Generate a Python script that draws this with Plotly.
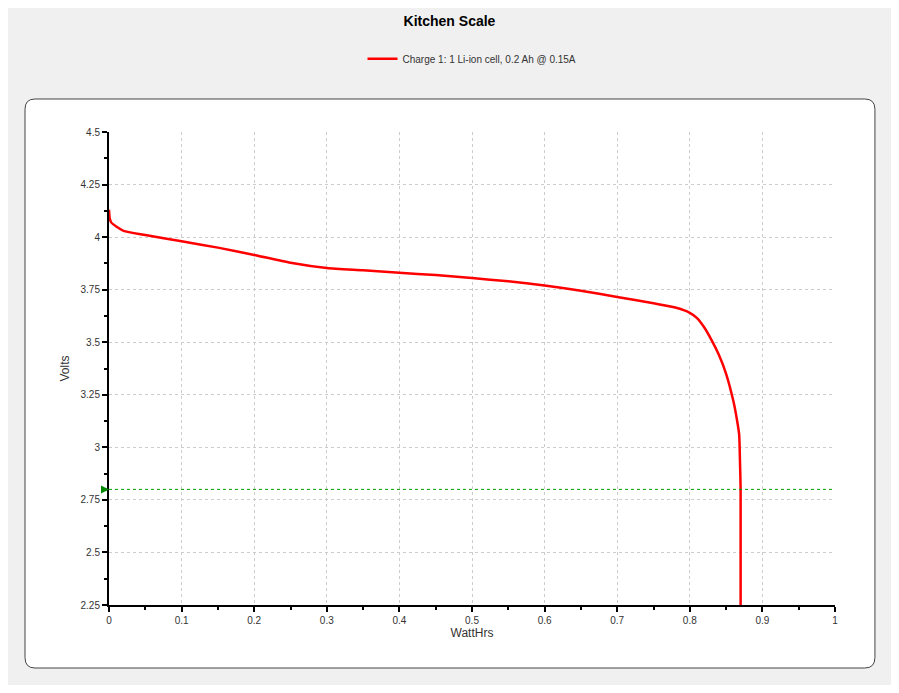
import plotly.graph_objects as go

watthrs = [0, 0.001, 0.003, 0.01, 0.02, 0.05, 0.1, 0.15, 0.2, 0.25, 0.3, 0.35, 0.4, 0.45, 0.5, 0.55, 0.6, 0.65, 0.7, 0.75, 0.78, 0.8, 0.81, 0.82, 0.83, 0.84, 0.85, 0.86, 0.865, 0.868, 0.869, 0.87, 0.87]
volts = [4.13, 4.09, 4.07, 4.05, 4.03, 4.01, 3.98, 3.95, 3.915, 3.878, 3.853, 3.842, 3.83, 3.82, 3.805, 3.79, 3.77, 3.745, 3.715, 3.685, 3.665, 3.64, 3.615, 3.57, 3.51, 3.44, 3.35, 3.22, 3.13, 3.06, 2.95, 2.8, 2.25]
cutoff = 2.8
series_name = "Charge 1: 1 Li-ion cell, 0.2 Ah @ 0.15A"

fig = go.Figure()
fig.add_trace(go.Scatter(x=watthrs, y=volts, mode="lines", name=series_name,
                         line=dict(color="#ff0000", width=2.5, shape="spline", smoothing=0.6)))
fig.add_shape(type="line", xref="paper", yref="y", x0=0, x1=1, y0=cutoff, y1=cutoff,
              line=dict(color="#00a000", width=1, dash="dot"))
fig.add_annotation(x=0, y=cutoff, xref="paper", yref="y", text="", showarrow=True,
                   ax=-8, ay=0, arrowhead=2, arrowsize=0.8, arrowwidth=2, arrowcolor="#008800")
fig.add_shape(type="path", xref="paper", yref="paper", layer="below",
              path="M -0.102,1.0698 L 1.041,1.0698 Q 1.055,1.0698 1.055,1.048 L 1.055,-0.111 Q 1.055,-0.1332 1.041,-0.1332 L -0.102,-0.1332 Q -0.1157,-0.1332 -0.1157,-0.111 L -0.1157,1.048 Q -0.1157,1.0698 -0.102,1.0698 Z",
              line=dict(color="#444444", width=1), fillcolor="white")

fig.update_layout(
    width=883, height=677,
    paper_bgcolor="#f0f0f0", plot_bgcolor="white",
    margin=dict(l=101, r=56, t=124, b=80),
    font=dict(family="Liberation Sans, Arial", size=10, color="#333333"),
    title=dict(text="<b>West Mountain Radio - CBA<br>Kitchen Scale</b>", x=0.5, xanchor="center",
               yref="container", y=1, yanchor="top", pad=dict(t=0),
               font=dict(size=14, color="black")),
    showlegend=True,
    legend=dict(orientation="h", x=0.5, xanchor="center", yref="container", y=0.925, yanchor="middle",
                font=dict(size=10, color="#333333"), bgcolor="rgba(0,0,0,0)"),
    xaxis=dict(range=[0, 1], dtick=0.1, tick0=0, showline=True, linecolor="black", linewidth=2,
               ticks="outside", ticklen=5, tickwidth=2, tickcolor="black",
               minor=dict(dtick=0.05, ticks="outside", ticklen=3, tickcolor="black", showgrid=False),
               showgrid=True, gridcolor="#cccccc", griddash="dot", zeroline=False,
               title=dict(text="WattHrs", standoff=2)),
    yaxis=dict(range=[2.25, 4.5], dtick=0.25, tick0=2.25, showline=True, linecolor="black", linewidth=2,
               ticks="outside", ticklen=5, tickwidth=2, tickcolor="black",
               minor=dict(dtick=0.125, ticks="outside", ticklen=3, tickcolor="black", showgrid=False),
               showgrid=True, gridcolor="#cccccc", griddash="dot", zeroline=False,
               title=dict(text="Volts", standoff=8)),
)
fig.write_html("out.html")
